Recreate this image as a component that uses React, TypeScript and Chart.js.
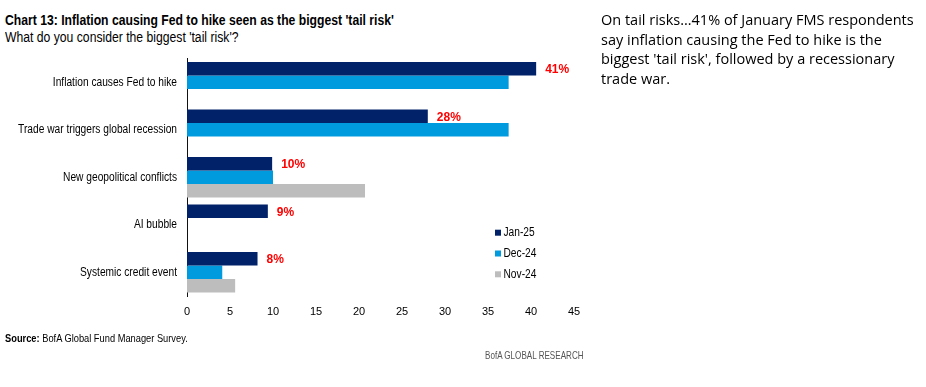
import React, { useEffect, useRef } from "react";
import { Chart, registerables } from "chart.js";

Chart.register(...registerables);

const categories = [
  "Inflation causes Fed to hike",
  "Trade war triggers global recession",
  "New geopolitical conflicts",
  "AI bubble",
  "Systemic credit event",
];
const jan25 = [40.6, 28, 9.9, 9.4, 8.2];
const dec24 = [37.4, 37.4, 10, null, 4.1];
const nov24 = [null, null, 20.7, null, 5.6];
const janLabels = ["41%", "28%", "10%", "9%", "8%"];
const seriesNames = ["Jan-25", "Dec-24", "Nov-24"];
const seriesColors = ["#012169", "#009ADE", "#BDBDBD"];
const xTicks = [0, 5, 10, 15, 20, 25, 30, 35, 40, 45];

const SANS = "'Liberation Sans', Arial, sans-serif";
const SQUEEZE = 0.85;

const textPlugin = {
  id: "customText",
  afterDraw(chart: any) {
    const ctx = chart.ctx;
    const yScale = chart.scales.y;
    ctx.save();
    // category labels (condensed)
    ctx.fillStyle = "#000";
    ctx.font = `12px ${SANS}`;
    ctx.textAlign = "right";
    ctx.textBaseline = "middle";
    categories.forEach((c, i) => {
      const y = yScale.getPixelForTick(i);
      ctx.save();
      ctx.translate(177, y);
      ctx.scale(SQUEEZE, 1);
      ctx.fillText(c, 0, 0);
      ctx.restore();
    });
    // red value labels
    const meta = chart.getDatasetMeta(0);
    ctx.fillStyle = "#FF0000";
    ctx.font = `bold 12px ${SANS}`;
    ctx.textAlign = "left";
    meta.data.forEach((bar: any, i: number) => {
      ctx.fillText(janLabels[i], bar.x + 9, bar.y + 1);
    });
    // legend
    ctx.font = `12px ${SANS}`;
    seriesNames.forEach((name, i) => {
      const y = 232.7 + i * 20.8;
      ctx.fillStyle = seriesColors[i];
      ctx.fillRect(495, y - 3, 6, 6);
      ctx.fillStyle = "#000";
      ctx.save();
      ctx.translate(503.5, y);
      ctx.scale(SQUEEZE, 1);
      ctx.fillText(name, 0, 0);
      ctx.restore();
    });
    ctx.restore();
  },
};

const squeezed = (scale: number) => ({
  display: "inline-block",
  transform: `scaleX(${scale})`,
  transformOrigin: "left top",
  whiteSpace: "nowrap" as const,
});

export default function App() {
  const ref = useRef<HTMLCanvasElement>(null);
  useEffect(() => {
    const chart = new Chart(ref.current!, {
      type: "bar",
      data: {
        labels: categories,
        datasets: [
          { label: seriesNames[0], data: jan25, backgroundColor: seriesColors[0] },
          { label: seriesNames[1], data: dec24 as any, backgroundColor: seriesColors[1] },
          { label: seriesNames[2], data: nov24 as any, backgroundColor: seriesColors[2] },
        ],
      },
      options: {
        indexAxis: "y",
        animation: false,
        responsive: false,
        maintainAspectRatio: false,
        layout: { padding: { left: 0, top: 58.5, right: 352, bottom: 66 } },
        datasets: { bar: { categoryPercentage: 0.855, barPercentage: 1 } },
        plugins: { legend: { display: false }, tooltip: { enabled: false } },
        scales: {
          x: {
            min: 0,
            max: 45,
            afterFit: (s: any) => { s.height = 25; },
            afterBuildTicks: (s: any) => { s.ticks = xTicks.map((v) => ({ value: v })); },
            grid: { display: false, drawTicks: false },
            border: { display: false },
            ticks: { padding: 9, color: "#000", font: { family: SANS, size: 11 } },
          },
          y: {
            afterFit: (s: any) => { s.width = 187; },
            grid: { display: false, drawTicks: false },
            border: { display: true, color: "#111", width: 1 },
            ticks: { display: false },
          },
        },
      },
      plugins: [textPlugin],
    });
    return () => chart.destroy();
  }, []);

  return (
    <div style={{ position: "fixed", left: 0, top: 0, width: 926, height: 387, background: "#fff", overflow: "hidden" }}>
      <div style={{ position: "absolute", left: 5, top: 11.6, fontFamily: SANS, fontWeight: "bold", fontSize: 14.5, lineHeight: "normal", color: "#000" }}>
        <span style={squeezed(0.84)}>Chart 13: Inflation causing Fed to hike seen as the biggest 'tail risk'</span>
      </div>
      <div style={{ position: "absolute", left: 5, top: 28.6, fontFamily: SANS, fontSize: 14, lineHeight: "normal", color: "#000" }}>
        <span style={squeezed(0.87)}>What do you consider the biggest 'tail risk'?</span>
      </div>
      <canvas ref={ref} width={926} height={387} style={{ position: "absolute", left: 0, top: 0, width: 926, height: 387 }} />
      <div style={{ position: "absolute", left: 5, top: 332, fontFamily: SANS, fontSize: 11, lineHeight: "normal", color: "#000" }}>
        <span style={squeezed(0.845)}><b>Source:</b> BofA Global Fund Manager Survey.</span>
      </div>
      <div style={{ position: "absolute", left: 485, top: 349, fontFamily: SANS, fontSize: 10.5, lineHeight: "normal", color: "#555" }}>
        <span style={squeezed(0.77)}>BofA GLOBAL RESEARCH</span>
      </div>
      <div style={{ position: "absolute", left: 601, top: 10, width: 325, fontFamily: "'Open Sans', sans-serif", fontSize: 14.5, lineHeight: "19.7px", color: "#000" }}>
        On tail risks…41% of January FMS respondents say inflation causing the Fed to hike is the biggest 'tail risk', followed by a recessionary trade war.
      </div>
    </div>
  );
}
